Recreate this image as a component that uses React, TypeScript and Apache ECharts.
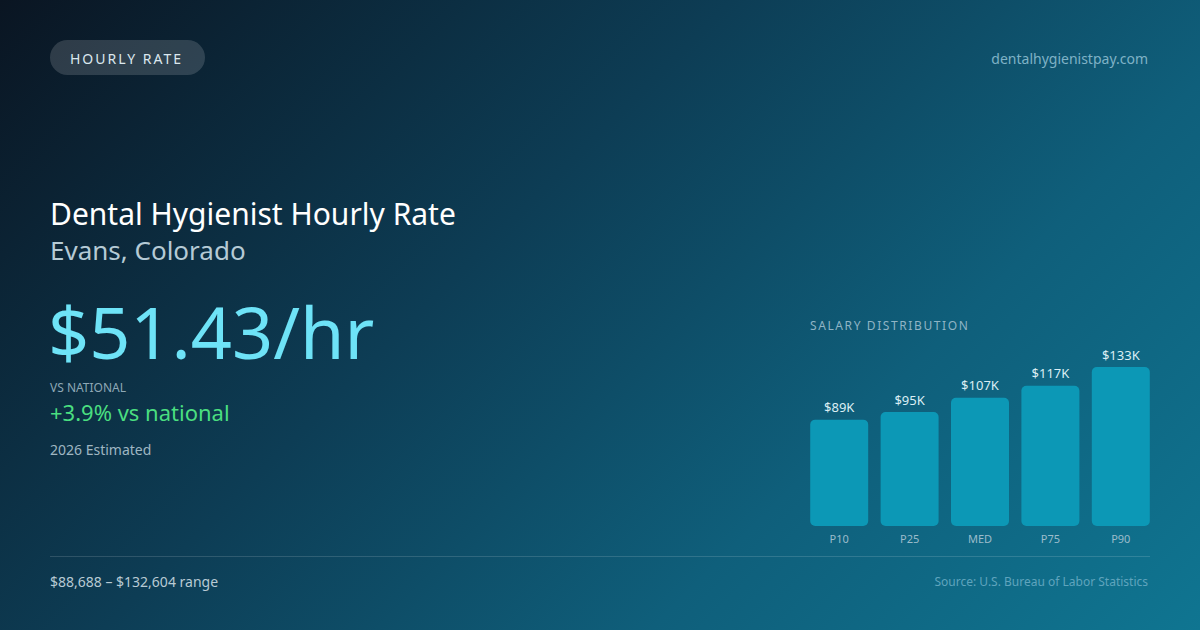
import { useEffect, useRef } from 'react';
import * as echarts from 'echarts';

const percentiles = ['P10', 'P25', 'MED', 'P75', 'P90'];
const salaries = [88688, 95000, 107000, 117000, 132604];

const FONT = '"Noto Sans", "Open Sans", sans-serif';

// zrender has no letter spacing, so it is added to the svg text afterwards
const spaced: Record<string, string> = {
  'HOURLY RATE': '2px',
  'SALARY DISTRIBUTION': '1.6px',
};

export default function App() {
  const chartRef = useRef<HTMLDivElement>(null);

  useEffect(() => {
    document.body.style.margin = '0';
    const chart = echarts.init(chartRef.current, null, { renderer: 'svg' });

    const txt = (x: number, y: number, text: string, size: number, fill: string, extra: any = {}) => ({
      type: 'text',
      x,
      y,
      style: {
        text,
        fill,
        fontSize: size,
        fontFamily: FONT,
        verticalAlign: 'middle',
        align: 'left',
        ...extra,
      },
    });

    const option = {
      animation: false,
      backgroundColor: 'transparent',
      grid: { left: 804, right: 44, top: 367, bottom: 104 },
      xAxis: {
        type: 'category',
        data: percentiles,
        axisLine: { show: false },
        axisTick: { show: false },
        axisLabel: { color: '#9bbccb', fontSize: 11, fontFamily: FONT, margin: 7 },
      },
      yAxis: {
        type: 'value',
        min: 0,
        max: 132604,
        show: false,
        splitLine: { show: false },
      },
      series: [
        {
          type: 'bar',
          data: salaries,
          barWidth: 58,
          itemStyle: { color: '#0c98b6', borderRadius: 5 },
          label: {
            show: true,
            position: 'top',
            distance: 6,
            color: '#dbeef4',
            fontSize: 13,
            fontFamily: FONT,
            formatter: (p: any) => '$' + Math.round(p.value / 1000) + 'K',
          },
        },
      ],
      graphic: [
        {
          type: 'rect',
          shape: { x: 50, y: 40, width: 155, height: 35, r: 17.5 },
          style: { fill: 'rgba(255,255,255,0.15)' },
        },
        txt(70, 58, 'HOURLY RATE', 14, '#dbe7ee'),
        txt(1148, 58, 'dentalhygienistpay.com', 14, '#7fb2c6', { align: 'right' }),
        txt(50, 213, 'Dental Hygienist Hourly Rate', 30, '#ffffff'),
        txt(50, 250, 'Evans, Colorado', 26, '#b5cad5'),
        txt(48, 331, '$51.43/hr', 72, '#6ee3f7'),
        txt(50, 387, 'VS NATIONAL', 12, '#8ea8b6'),
        txt(50, 412, '+3.9% vs national', 22, '#4ade80'),
        txt(50, 449, '2026 Estimated', 14, '#9fb6c2'),
        txt(810, 325, 'SALARY DISTRIBUTION', 12, '#8fb4c5'),
        {
          type: 'line',
          shape: { x1: 50, y1: 556.5, x2: 1150, y2: 556.5 },
          style: { stroke: 'rgba(255,255,255,0.14)', lineWidth: 1 },
        },
        txt(50, 581, '$88,688 – $132,604 range', 14, '#b8cad4'),
        txt(1148, 581, 'Source: U.S. Bureau of Labor Statistics', 12, '#5fa4bd', { align: 'right' }),
      ],
    };

    chart.setOption(option);

    chartRef.current?.querySelectorAll('text').forEach((el) => {
      const ls = spaced[(el.textContent || '').trim()];
      if (ls) el.style.letterSpacing = ls;
    });

    return () => {
      chart.dispose();
    };
  }, []);

  return (
    <div
      ref={chartRef}
      style={{
        position: 'fixed',
        left: 0,
        top: 0,
        width: '1200px',
        height: '630px',
        background: 'linear-gradient(135deg, #0a1522 0%, #0d3d55 40%, #0f5f7b 70%, #0f7591 100%)',
      }}
    />
  );
}
